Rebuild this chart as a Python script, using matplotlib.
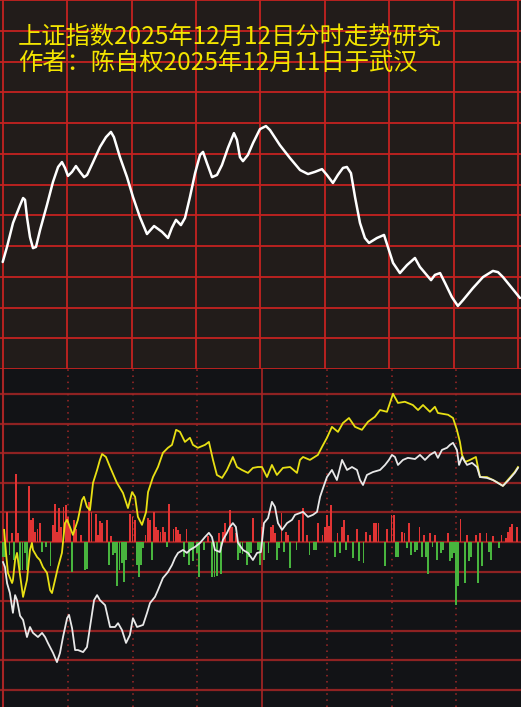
import matplotlib
matplotlib.use('Agg')
import matplotlib.pyplot as plt

plt.rcParams['font.family'] = ['Noto Sans CJK SC', 'DejaVu Sans']

title1 = '上证指数2025年12月12日分时走势研究'
title2 = '作者：陈自权2025年12月11日于武汉'

# top panel: forecast curve (minute of session, level in grid rows)
top_min = [0.0, 2.0, 4.8, 8.1, 9.5, 10.4, 11.3, 12.7, 14.1, 15.5,
           17.4, 20.6, 23.4, 25.8, 27.6, 29.0, 30.4, 32.3, 34.1, 36.0,
           37.9, 39.3, 42.1, 45.3, 48.1, 50.4, 51.8, 54.6, 57.9, 60.7,
           63.9, 67.2, 70.5, 74.2, 77.0, 78.8, 80.7, 83.0, 84.9, 87.2,
           89.6, 91.9, 93.3, 95.1, 97.5, 99.8, 102.1, 104.9, 107.7, 109.1,
           110.5, 111.9, 114.2, 116.6, 119.8, 122.6, 124.5, 129.1, 133.8, 138.5,
           142.2, 145.4, 148.7, 151.0, 153.8, 156.1, 158.5, 160.3, 162.2, 164.1,
           166.4, 168.7, 170.6, 174.3, 177.6, 179.4, 181.8, 185.0, 188.3, 192.0,
           194.3, 199.5, 201.3, 203.7, 206.0, 209.2, 212.0, 214.4, 219.0, 223.7,
           228.3, 230.7, 233.0, 237.2, 240.9]
top_val = [3.48, 3.97, 4.75, 5.33, 5.56, 5.50, 4.94, 4.29, 3.93, 3.97,
           4.52, 5.33, 6.08, 6.57, 6.73, 6.54, 6.28, 6.41, 6.60, 6.41,
           6.24, 6.31, 6.73, 7.22, 7.54, 7.71, 7.54, 6.89, 6.24, 5.59,
           4.94, 4.39, 4.65, 4.46, 4.26, 4.59, 4.85, 4.68, 4.91, 5.59,
           6.37, 6.96, 7.06, 6.70, 6.24, 6.31, 6.63, 7.19, 7.67, 7.45,
           6.89, 6.76, 6.96, 7.35, 7.80, 7.90, 7.77, 7.28, 6.86, 6.47,
           6.34, 6.41, 6.50, 6.31, 6.05, 6.31, 6.54, 6.57, 6.37, 5.59,
           4.75, 4.26, 4.10, 4.26, 4.36, 3.97, 3.45, 3.12, 3.38, 3.61,
           3.32, 2.89, 3.06, 3.12, 2.80, 2.34, 2.05, 2.24, 2.63, 2.99,
           3.19, 3.15, 2.99, 2.63, 2.31]

# bottom panel: yellow line
yel_min = [0.5, 1.4, 2.3, 4.2, 4.6, 5.6, 6.5, 7.9, 9.3, 11.1,
           12.5, 13.4, 13.9, 15.8, 17.1, 18.5, 20.4, 21.8, 22.7, 24.1,
           25.5, 27.3, 28.7, 29.7, 31.0, 32.4, 34.7, 36.6, 37.5, 38.9,
           40.3, 41.7, 43.6, 44.9, 45.9, 47.7, 49.6, 52.8, 55.6, 57.9,
           59.8, 61.2, 62.5, 64.4, 66.3, 67.2, 69.5, 71.8, 74.1, 76.4,
           78.3, 80.2, 82.0, 84.3, 86.6, 88.0, 90.3, 93.6, 95.4, 97.3,
           99.1, 101.5, 103.8, 106.5, 108.4, 110.7, 113.5, 115.8, 118.1, 120.0,
           122.3, 124.6, 126.9, 129.7, 133.0, 136.2, 137.6, 139.0, 142.2, 145.9,
           147.8, 150.1, 152.4, 155.2, 157.5, 160.3, 163.1, 166.3, 169.1, 172.3,
           174.7, 177.9, 180.7, 183.0, 186.2, 189.9, 192.3, 194.6, 197.8, 200.1,
           201.5, 206.2, 208.5, 210.3, 211.7, 212.7, 214.1, 216.4, 219.1, 221.0,
           224.2, 227.0, 228.8, 231.6, 233.9, 237.1, 238.6]
yel_val = [0.41, -0.37, -1.05, -1.39, -1.29, -0.61, -0.37, -1.12, -1.86, -1.29,
           -0.27, -0.03, -0.27, -0.51, -0.61, -0.85, -1.05, -1.63, -1.73, -1.29,
           -0.85, -0.37, 0.64, 0.75, 0.51, 0.24, 0.75, 1.42, 1.53, 1.19,
           1.08, 2.00, 2.44, 2.78, 2.98, 2.88, 2.54, 2.00, 1.66, 1.15,
           1.69, 1.53, 0.85, 0.58, 1.02, 1.69, 2.20, 2.54, 3.02, 3.19,
           3.29, 3.80, 3.73, 3.39, 3.53, 3.29, 3.19, 3.29, 3.39, 2.78,
           2.27, 2.17, 2.44, 2.88, 2.54, 2.44, 2.34, 2.51, 2.54, 2.54,
           2.20, 2.61, 2.27, 2.51, 2.54, 2.34, 2.78, 2.88, 2.78, 2.95,
           3.22, 3.53, 3.90, 3.73, 4.03, 4.20, 3.90, 3.80, 4.07, 4.24,
           4.47, 4.41, 5.02, 4.71, 4.75, 4.64, 4.47, 4.64, 4.41, 4.58,
           4.37, 4.31, 4.20, 3.80, 3.39, 2.95, 2.71, 2.78, 2.88, 2.20,
           2.20, 2.10, 2.03, 1.90, 2.10, 2.37, 2.54]

# bottom panel: white line
wht_min = [0.0, 0.9, 1.9, 3.2, 4.6, 5.6, 6.5, 7.9, 9.3, 11.1,
           12.5, 13.9, 16.2, 18.1, 19.5, 20.8, 23.2, 25.0, 26.4, 27.8,
           29.7, 30.6, 32.0, 33.4, 34.7, 37.1, 38.9, 40.8, 42.2, 43.6,
           44.9, 47.3, 49.6, 51.9, 53.3, 55.1, 57.0, 58.8, 60.2, 62.1,
           64.9, 66.7, 68.1, 70.4, 71.8, 74.1, 76.4, 78.3, 79.7, 81.1,
           83.4, 85.2, 86.6, 88.9, 91.3, 93.6, 95.4, 96.8, 98.2, 100.5,
           101.9, 103.8, 105.1, 106.5, 107.9, 108.9, 111.2, 113.5, 115.8, 117.7,
           119.5, 120.9, 122.8, 124.6, 126.0, 127.4, 129.3, 131.6, 133.9, 135.3,
           137.6, 139.0, 141.3, 143.6, 145.5, 146.9, 148.3, 150.1, 152.4, 154.7,
           157.1, 159.4, 161.7, 164.0, 165.4, 166.8, 168.6, 171.4, 174.7, 177.0,
           178.8, 180.2, 181.6, 183.0, 185.3, 187.6, 190.9, 193.2, 195.5, 197.8,
           200.1, 201.5, 203.4, 205.7, 207.1, 208.5, 210.3, 211.3, 212.7, 215.0,
           217.3, 219.6, 221.0, 224.2, 227.0, 229.3, 231.6, 233.9, 237.1, 238.6]
wht_val = [-0.68, -0.85, -1.40, -1.73, -2.40, -1.80, -1.97, -2.50, -2.64, -3.22,
           -2.88, -3.08, -3.22, -3.08, -3.22, -3.42, -3.76, -4.07, -3.76, -3.22,
           -2.58, -2.47, -2.92, -3.66, -3.66, -3.73, -3.56, -2.64, -1.97, -1.80,
           -1.97, -2.14, -2.88, -2.88, -2.75, -2.98, -3.42, -3.15, -2.58, -2.88,
           -2.81, -2.41, -2.07, -1.86, -1.63, -1.22, -1.02, -0.78, -0.54, -0.37,
           -0.27, -0.37, -0.27, -0.17, -0.03, 0.17, 0.31, 0.17, -0.27, -0.34,
           0.07, 0.31, 0.51, 0.64, 0.51, -0.03, -0.27, -0.37, -0.61, -0.37,
           -0.34, 0.64, 0.81, 1.36, 1.19, 0.64, 0.41, 0.64, 0.75, 0.92,
           0.98, 1.02, 0.85, 0.92, 1.02, 1.53, 1.83, 2.20, 2.44, 2.10,
           2.78, 2.44, 2.54, 2.44, 2.10, 1.93, 2.27, 2.37, 2.44, 2.61,
           2.78, 2.95, 2.88, 2.61, 2.78, 2.85, 2.81, 2.95, 2.78, 2.95,
           3.05, 2.85, 3.12, 3.19, 3.29, 3.36, 3.12, 2.61, 2.88, 2.61,
           2.68, 2.54, 2.20, 2.17, 2.10, 2.00, 1.90, 2.07, 2.34, 2.51]

# bottom panel: per-minute bars (positive red, negative green)
bar_min = [0, 1, 2, 3, 4, 5, 6, 7, 8, 9, 10, 11, 12, 13, 14, 15, 16, 17, 18, 20,
           22, 23, 24, 25, 26, 27, 28, 29, 30, 31, 32, 33, 34, 36, 38, 39, 40, 41, 43, 44,
           45, 46, 48, 49, 50, 51, 52, 53, 54, 55, 56, 57, 59, 60, 61, 62, 63, 64, 65, 66,
           67, 68, 69, 70, 71, 72, 73, 74, 75, 76, 77, 79, 80, 81, 82, 84, 85, 86, 87, 88,
           90, 91, 93, 95, 97, 98, 99, 100, 101, 102, 103, 105, 106, 108, 109, 110, 111, 113, 114, 115,
           116, 118, 119, 120, 121, 123, 124, 125, 126, 127, 128, 129, 130, 131, 132, 133, 136, 137, 139, 141,
           142, 144, 145, 146, 148, 149, 150, 151, 152, 154, 155, 156, 157, 158, 159, 160, 162, 164, 165, 167,
           168, 170, 172, 173, 174, 177, 178, 180, 181, 182, 183, 185, 186, 187, 188, 189, 191, 192, 193, 194,
           195, 196, 197, 198, 199, 200, 201, 203, 204, 206, 207, 208, 209, 210, 211, 212, 214, 215, 216, 217,
           219, 220, 221, 222, 224, 225, 226, 227, 230, 231, 233, 234, 235, 236, 238]
bar_val = [-0.50, -0.50, 1.00, -0.45, 0.30, -0.60, 2.30, 0.30, -0.95, -0.95, -0.37, -0.95, 1.90, 0.75, 0.80, 0.35, 0.45, 0.65, -0.33, -0.17,
           -0.83, 0.58, 1.30, 0.35, 1.15, 0.50, 1.20, 1.25, 0.85, 0.50, -1.00, 0.75, 0.45, 0.25, -0.95, -0.90, 1.35, 1.00, 0.95, 0.25,
           0.70, 0.65, 0.75, -0.78, 0.20, -0.45, -0.37, -1.50, -0.95, -0.72, -1.35, -0.60, 0.95, 0.85, 0.75, -0.78, -1.20, -0.78, -0.20, 0.25,
           0.80, 0.75, -0.60, 1.00, 0.50, 0.40, 0.35, 0.50, 0.35, -0.17, 1.30, 0.45, 0.50, 0.40, 0.27, -0.50, 0.45, -0.78, -0.27, -0.65,
           -0.37, -1.20, -0.27, 0.20, -1.20, -1.20, -1.15, 0.30, -1.10, 0.35, 0.65, 1.10, 0.50, 0.30, -0.60, -0.37, -0.42, -0.78, -0.50, -0.37,
           0.80, -0.27, -0.78, 0.50, -0.60, -0.37, 0.50, 0.58, 0.30, -0.60, -0.20, 0.98, -0.33, 0.35, 0.25, -0.88, -0.27, 0.75, 1.15, 0.25,
           -0.45, -0.27, -0.27, 0.65, 0.25, 0.50, 0.92, 0.55, 1.25, -0.50, 0.30, -0.37, 0.50, 0.75, -0.27, 0.25, -0.55, 0.45, -0.65, -0.72,
           0.35, 0.25, 0.65, 0.65, 0.65, -0.83, 0.45, 0.92, 0.92, -0.50, -0.50, 0.35, 0.30, -0.20, 0.65, -0.45, -0.33, -0.27, 0.50, -0.50,
           0.25, -0.50, -1.10, 0.30, -0.17, 0.22, -0.60, -0.37, -0.27, 0.30, -0.65, -0.53, -0.37, -2.15, -1.50, 0.78, -1.40, 0.25, -0.65, -0.50,
           0.25, -1.40, 0.30, -0.83, 0.30, -0.33, -0.60, 0.20, -0.20, 0.25, 0.15, 0.35, 0.50, 0.60, 0.50]

fig = plt.figure(figsize=(5.21, 7.07), dpi=100)
ax1 = fig.add_axes([0, 338 / 707, 1, 369 / 707])
ax2 = fig.add_axes([0, 0, 1, 338 / 707])

for ax in (ax1, ax2):
    ax.set_xticks([])
    ax.set_yticks([])
    for s in ax.spines.values():
        s.set_visible(False)

# top panel
ax1.set_facecolor('#221c1a')
ax1.set_xlim(-1.26, 241.4)
ax1.set_ylim(0, 12)
for k in range(13):
    ax1.axhline(k, color='#c42220', lw=1.3, zorder=1)
for k in range(9):
    ax1.axvline(k * 30, color='#c42220', lw=1.3, zorder=1)
ax1.plot(top_min, top_val, color='white', lw=1.8, solid_joinstyle='round',
         solid_capstyle='round', zorder=3)

# bottom panel
ax2.set_facecolor('#121316')
ax2.set_xlim(-1.39, 240.0)
ax2.set_ylim(-5.59, 5.86)
for k in range(-5, 6):
    ax2.axhline(k, color='#8e2222', lw=1.6, zorder=1)
ax2.axvline(0, color='#a82424', lw=1.5, zorder=1)
ax2.axvline(120, color='#a82424', lw=1.2, zorder=1)
for k in [30, 60, 90, 150, 180, 210]:
    ax2.axvline(k, color='#a02828', lw=1.1, ls=(0, (1, 3)), zorder=1)

bar_colors = ['#e03434' if v > 0 else '#48b43e' for v in bar_val]
ax2.bar(bar_min, bar_val, width=0.85, color=bar_colors, linewidth=0, zorder=2)
ax2.plot(yel_min, yel_val, color='#e8e014', lw=1.3, zorder=3)
ax2.plot(wht_min, wht_val, color='#e8e8e8', lw=1.3, zorder=4)

fig.text(18 / 521, 1 - 38 / 707, title1, color='#f2e400', fontsize=17.5,
         va='center', ha='left')
fig.text(18 / 521, 1 - 63.5 / 707, title2, color='#f2e400', fontsize=17.5,
         va='center', ha='left')

fig.savefig('out.png', dpi=100)
